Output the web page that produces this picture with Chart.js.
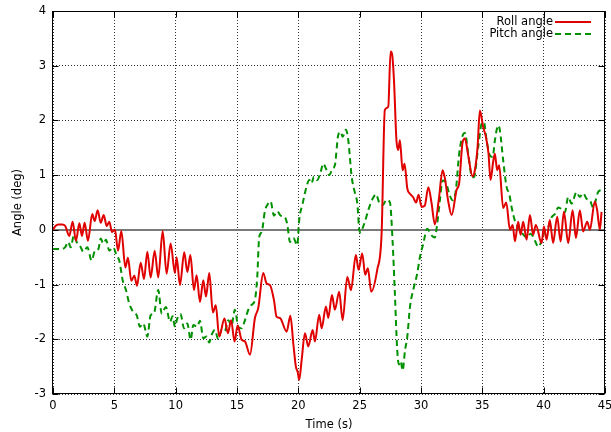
<!DOCTYPE html>
<html>
<head>
<meta charset="utf-8">
<script src="https://cdn.jsdelivr.net/npm/chart.js@4/dist/chart.umd.min.js"></script>
<style>
  html, body { margin: 0; padding: 0; background: #fff; }
  canvas { display: block; }
</style>
</head>
<body>
<canvas id="chart" width="611" height="432"></canvas>
<script>
// time (s) and angle (deg)
const rollTime = [0, 0.2, 0.45, 0.75, 1.0, 1.33, 1.6, 1.87, 2.15, 2.36, 2.58, 2.85, 3.2, 3.4, 3.64, 3.89, 4.13, 4.38, 4.59, 4.81, 5.05,
  5.3, 5.57, 5.9, 6.11, 6.38, 6.63, 6.85, 7.15, 7.42, 7.69, 7.96, 8.29, 8.58, 8.94, 9.26, 9.59, 9.94, 10.08, 10.35, 10.7,
  10.95, 11.2, 11.49, 11.71, 11.98, 12.25, 12.47, 12.74, 13.03, 13.27, 13.55, 13.98, 14.26, 14.52, 14.8, 15.05, 15.38,
  15.65, 16.06, 16.46, 16.73, 17.14, 17.41, 17.69, 18.01, 18.23, 18.5, 19.05, 19.35, 19.6, 19.8, 19.95, 20.07, 20.27,
  20.54, 20.81, 21.17, 21.35, 21.7, 21.9, 22.25, 22.44, 22.74, 22.98, 23.33, 23.61, 23.99, 24.29, 24.69, 24.91, 25.21,
  25.45, 25.67, 25.94, 26.43, 26.79, 27.05, 27.33, 27.52, 27.65, 27.8, 28.0, 28.14, 28.28, 28.5, 28.66, 28.88, 29.1,
  29.35, 29.6, 29.8, 30.05, 30.3, 30.6, 30.86, 31.13, 31.45, 31.76, 31.95, 32.2, 32.5, 32.9, 33.11, 33.39, 33.58, 33.85,
  34.2, 34.39, 34.61, 34.8, 35.07, 35.29, 35.5, 35.67, 35.88, 36.02, 36.21, 36.37, 36.7, 36.95, 37.25, 37.47, 37.66,
  37.92, 38.12, 38.33, 38.61, 38.88, 39.14, 39.36, 39.83, 40.02, 40.24, 40.5, 40.77, 41.1, 41.38, 41.65, 42.0, 42.36,
  42.63, 42.95, 43.22, 43.55, 43.77, 44.17, 44.36, 44.58, 44.72];
const rollAngle = [0, 0.07, 0.1, 0.1, 0.07, -0.11, 0.15, -0.2, 0.12, -0.11, 0.13, -0.2, 0.29, 0.16, 0.36, 0.13, 0.27, 0.07, 0.15, -0.04, 0,
  -0.38, -0.02, -0.69, -0.51, -0.93, -0.84, -1.02, -0.6, -0.9, -0.4, -0.87, -0.38, -0.87, -0.02, -0.8, -0.25, -0.79, -0.5, -1.01, -0.41,
  -0.77, -0.46, -1.1, -0.83, -1.32, -0.92, -1.22, -0.79, -1.51, -1.38, -1.95, -1.62, -1.89, -1.65, -2.04, -1.75, -2.01,
  -2.04, -2.28, -1.61, -1.43, -0.79, -0.98, -1.01, -1.28, -1.59, -1.61, -1.86, -1.57, -2.1, -2.5, -2.6, -2.74, -2.38,
  -1.89, -2.13, -1.83, -2.04, -1.55, -1.8, -1.4, -1.61, -1.19, -1.46, -1.13, -1.65, -0.86, -1.1, -0.46, -0.73, -0.43,
  -0.82, -0.7, -1.13, -0.73, -0.06, 2.19, 2.25, 3.26, 3.2, 2.72, 1.63, 1.46, 1.64, 1.09, 1.21, 0.76, 0.66,
  0.6, 0.5, 0.64, 0.42, 0.44, 0.78, 0.49, 0.1, 0.55, 1.09, 0.94, 0.55, 0.27, 0.73, 0.85, 1.6, 1.67, 1.36,
  0.98, 1.09, 1.51, 2.18, 1.88, 1.7, 1.4, 0.91, 1.24, 1.39, 1.09, 1.18, 0.4, 0.5, 0, 0.09, -0.21,
  0.15, -0.09, 0.15, -0.18, 0.27, -0.09, 0.09, -0.24, 0.06, -0.18, 0.18, -0.24, 0.24, -0.21, 0.33, -0.24, 0.36,
  -0.15, 0.36, -0.03, 0.15, 0, 0.52, 0.36, 0, 0.33];

const pitchTime = [0, 0.57, 0.98, 1.25, 1.44, 1.71, 1.93, 2.2, 2.47, 2.8, 3.15, 3.42, 3.7, 3.89, 4.1, 4.32, 4.59, 4.91, 5.19, 5.4,
  5.68, 5.95, 6.22, 6.54, 6.82, 7.09, 7.36, 7.69, 7.96, 8.23, 8.58, 8.86, 9.21, 9.54, 9.75, 9.94, 10.13, 10.4, 10.68,
  10.95, 11.22, 11.44, 11.76, 11.98, 12.25, 12.53, 12.74, 12.93, 13.2, 13.47, 13.75, 14.0, 14.29, 14.55, 14.83, 15.1,
  15.38, 15.65, 15.92, 16.19, 16.46, 16.65, 16.81, 17.01, 17.28, 17.46, 17.74, 18.01, 18.28, 18.56, 18.91, 19.1, 19.32,
  19.6, 19.91, 20.07, 20.35, 20.67, 20.89, 21.08, 21.27, 21.54, 21.82, 22.03, 22.25, 22.52, 22.79, 22.98, 23.25, 23.45,
  23.61, 23.88, 24.07, 24.35, 24.62, 24.81, 24.97, 25.1, 25.24, 25.43, 25.7, 26.06, 26.33, 26.59, 26.87, 27.2, 27.47,
  27.68, 27.87, 28.06, 28.2, 28.35, 28.5, 28.7, 28.88, 29.1, 29.42, 29.69, 29.91, 30.18, 30.5, 30.86, 31.13, 31.32,
  31.54, 31.76, 32.03, 32.3, 32.58, 32.84, 33.11, 33.39, 33.58, 33.85, 34.12, 34.31, 34.66, 34.94, 35.13, 35.35, 35.62,
  35.84, 36.02, 36.29, 36.43, 36.7, 36.98, 37.19, 37.4, 37.65, 37.92, 38.28, 38.61, 38.94, 39.29, 39.56, 39.83, 40.1,
  40.37, 40.65, 40.92, 41.19, 41.46, 41.73, 42.0, 42.28, 42.68, 42.95, 43.22, 43.5, 43.77, 44.03, 44.44, 44.72];
const pitchAngle = [-0.35, -0.35, -0.32, -0.22, -0.32, -0.1, -0.22, -0.29, -0.4, -0.32, -0.56, -0.38, -0.35, -0.16, -0.25, -0.18, -0.38, -0.32, -0.47, -0.56,
  -0.92, -1.1, -1.35, -1.5, -1.56, -1.77, -1.71, -1.95, -1.56, -1.53, -1.1, -1.53, -1.41, -1.68, -1.58, -1.77, -1.62, -1.54, -1.8,
  -1.71, -2.01, -1.74, -1.77, -1.66, -1.98, -1.95, -2.06, -1.92, -1.83, -2.0, -1.83, -1.85, -1.65, -1.75, -1.46, -1.77,
  -1.8, -1.65, -1.46, -1.37, -1.28, -0.86, -0.13, -0.04, 0.35, 0.45, 0.52, 0.26, 0.34, 0.26, 0.23, 0.1, -0.22,
  -0.15, -0.28, 0.18, 0.48, 0.79, 0.91, 0.85, 0.97, 0.91, 1.06, 1.21, 1.12, 1.0, 1.12, 1.18, 1.73, 1.79,
  1.7, 1.83, 1.64, 0.97, 0.67, 0.48, 0, -0.05, 0.03, 0.15, 0.36, 0.57, 0.65, 0.5, 0.45, 0.55, 0.5,
  -0.19, -1.16, -2.19, -2.46, -2.4, -2.57, -2.2, -1.96, -1.41, -1.05, -0.8, -0.5, -0.26, 0.02, -0.1, -0.14, 0.11,
  0.54, 0.9, 0.87, 0.66, 0.54, 0.72, 1.39, 1.72, 1.77, 1.39, 0.99, 0.96, 1.51, 1.94, 1.97, 1.63, 1.36,
  1.33, 1.63, 1.91, 1.82, 1.27, 0.78, 0.66, 0.4, 0.17, 0.05, -0.07, -0.14, -0.07, -0.2, -0.31, -0.2, -0.01,
  0.05, 0.23, 0.29, 0.41, 0.38, 0.32, 0.6, 0.48, 0.69, 0.6, 0.67, 0.57, 0.54, 0.41, 0.69, 0.73];

const FONT = 'DejaVu Sans';

// gnuplot-like frame, inner ticks, zero axis and key
const gnuplotLook = {
    id: 'gnuplotLook',
    beforeDatasetsDraw(chart) {
        const { ctx, chartArea: a, scales } = chart;
        const y0 = Math.round(scales.y.getPixelForValue(0));
        ctx.save();
        ctx.strokeStyle = '#7a7a7a';
        ctx.lineWidth = 2;
        ctx.beginPath();
        ctx.moveTo(a.left, y0);
        ctx.lineTo(a.right, y0);
        ctx.stroke();
        ctx.restore();
    },
    afterDatasetsDraw(chart) {
        const { ctx, chartArea: a, scales } = chart;
        const L = Math.round(a.left) - 0.5, R = Math.round(a.right) - 0.5;
        const T = Math.round(a.top) + 0.5, B = Math.round(a.bottom) - 0.5;
        ctx.save();
        ctx.strokeStyle = '#000';
        ctx.lineWidth = 1;
        ctx.beginPath();
        scales.x.ticks.forEach(t => {
            const x = Math.round(scales.x.getPixelForValue(t.value)) + 0.5;
            ctx.moveTo(x, B); ctx.lineTo(x, B - 6);
            ctx.moveTo(x, T); ctx.lineTo(x, T + 6);
        });
        scales.y.ticks.forEach(t => {
            const y = Math.round(scales.y.getPixelForValue(t.value)) + 0.5;
            ctx.moveTo(L, y); ctx.lineTo(L + 6, y);
            ctx.moveTo(R, y); ctx.lineTo(R - 6, y);
        });
        ctx.stroke();
        ctx.strokeRect(L, T, R - L, B - T);

        // key, text first then sample line
        ctx.font = '11.5px "' + FONT + '"';
        ctx.textAlign = 'right';
        ctx.textBaseline = 'middle';
        chart.data.datasets.forEach((ds, i) => {
            const y = 22 + i * 12;
            ctx.fillStyle = '#000';
            ctx.fillText(ds.label, 553, y);
            ctx.strokeStyle = ds.borderColor;
            ctx.lineWidth = 2;
            ctx.setLineDash(ds.borderDash || []);
            ctx.beginPath();
            ctx.moveTo(555, y);
            ctx.lineTo(591, y);
            ctx.stroke();
        });
        ctx.restore();
    }
};

const tickFont = { family: FONT, size: 11.5 };

// drop the label overhang padding so the plot box sits where the layout padding says
function noOverhang(s) {
    s.paddingLeft = 0;
    s.paddingRight = 0;
    s.paddingTop = 0;
    s.paddingBottom = 0;
}

new Chart(document.getElementById('chart'), {
    type: 'line',
    data: {
        datasets: [
            {
                label: 'Roll angle',
                data: rollTime.map((t, i) => ({ x: t, y: rollAngle[i] })),
                borderColor: '#e00000',
                borderWidth: 2,
                pointRadius: 0,
                cubicInterpolationMode: 'monotone'
            },
            {
                label: 'Pitch angle',
                data: pitchTime.map((t, i) => ({ x: t, y: pitchAngle[i] })),
                borderColor: '#009000',
                borderWidth: 2,
                borderDash: [6, 4],
                pointRadius: 0,
                cubicInterpolationMode: 'monotone'
            }
        ]
    },
    options: {
        responsive: false,
        animation: false,
        layout: { padding: { left: 0, right: 6, top: 11, bottom: 0 } },
        plugins: { legend: { display: false }, tooltip: { enabled: false } },
        scales: {
            x: {
                type: 'linear',
                min: 0,
                max: 45,
                ticks: { stepSize: 5, color: '#000', font: tickFont, padding: 5, maxRotation: 0 },
                grid: { color: 'rgba(0,0,0,0.8)', lineWidth: 1, drawTicks: false },
                border: { display: false, dash: [1, 2] },
                title: { display: true, text: 'Time (s)', color: '#000', font: tickFont, padding: { top: 0, bottom: 0 } },
                afterFit: s => { s.height = 38; noOverhang(s); }
            },
            y: {
                min: -3,
                max: 4,
                ticks: { stepSize: 1, color: '#000', font: tickFont, padding: 7 },
                grid: { color: 'rgba(0,0,0,0.8)', lineWidth: 1, drawTicks: false },
                border: { display: false, dash: [1, 2] },
                title: { display: true, text: 'Angle (deg)', color: '#000', font: tickFont, padding: { top: 11, bottom: 0 } },
                afterFit: s => { s.width = 53; noOverhang(s); }
            }
        }
    },
    plugins: [gnuplotLook]
});
</script>
</body>
</html>
